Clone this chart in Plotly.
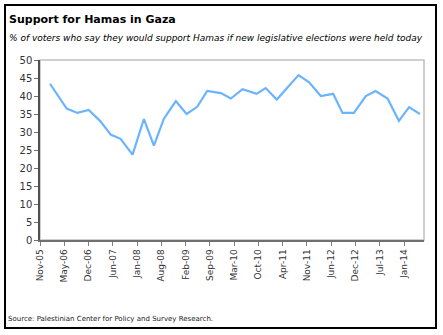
import datetime as dt
import plotly.graph_objects as go

# Poll dates and Hamas support (% of Gaza voters)
poll_dates = [
    "2006-01-31", "2006-06-17", "2006-09-12", "2006-12-14", "2007-03-17",
    "2007-06-15", "2007-09-02", "2007-12-09", "2008-03-11", "2008-06-01",
    "2008-08-22", "2008-11-28", "2009-02-24", "2009-05-22", "2009-08-12",
    "2009-12-02", "2010-02-22", "2010-05-29", "2010-09-21", "2010-12-04",
    "2011-03-06", "2011-08-31", "2011-11-26", "2012-03-01", "2012-06-10",
    "2012-08-26", "2012-11-27", "2013-03-05", "2013-05-24", "2013-08-30",
    "2013-12-01", "2014-02-23", "2014-05-22",
]
support = [
    43.4, 36.5, 35.3, 36.1, 33.1,
    29.2, 28.1, 23.7, 33.6, 26.2,
    33.7, 38.6, 35.0, 37.0, 41.4,
    40.8, 39.3, 41.9, 40.6, 42.2,
    39.0, 45.8, 43.8, 40.0, 40.6,
    35.3, 35.3, 40.0, 41.4, 39.3,
    33.1, 36.9, 35.0,
]
tick_labels = [
    "Nov-05", "May-06", "Dec-06", "Jun-07", "Jan-08", "Aug-08", "Feb-09",
    "Sep-09", "Mar-10", "Oct-10", "Apr-11", "Nov-11", "Jun-12", "Dec-12",
    "Jul-13", "Jan-14",
]

W, H = 443, 335
L, R, T, B = 40, 424, 60, 240  # plot area in pixels

def px2x(px):
    return (px - L) / (R - L)

def py2y(py):
    return (B - py) / (B - T)

# evenly spaced major ticks on the date axis
start = dt.date(2005, 11, 10)
step = dt.timedelta(days=199)
tick_vals = [(start + i * step).isoformat() for i in range(len(tick_labels))]
x_range = [start.isoformat(), (start + dt.timedelta(days=3149)).isoformat()]

font = "DejaVu Sans, Verdana, sans-serif"

fig = go.Figure()
fig.add_trace(go.Scatter(
    x=poll_dates, y=support, mode="lines",
    line=dict(color="#6ab4ff", width=2.2),
    hoverinfo="x+y",
))

fig.update_layout(
    width=W, height=H,
    margin=dict(l=L, r=W - R, t=T, b=H - B),
    paper_bgcolor="white", plot_bgcolor="white",
    showlegend=False,
    font=dict(family=font, size=9, color="#333333"),
    xaxis=dict(
        type="date", range=x_range,
        tickmode="array", tickvals=tick_vals, ticktext=tick_labels,
        tickangle=-90, ticks="outside", ticklen=4, tickcolor="#808080",
        showgrid=False, zeroline=False,
        showline=True, linecolor="#707070", linewidth=1.5,
        tickfont=dict(size=9, color="#333333"),
    ),
    yaxis=dict(
        range=[0, 50], dtick=5, ticks="outside", ticklen=4, tickcolor="#707070",
        showgrid=False, zeroline=False,
        showline=True, linecolor="#505050", linewidth=1.5,
        tickfont=dict(size=10, color="#333333"),
    ),
    shapes=[
        # light frame around the plot area
        dict(type="rect", xref="paper", yref="paper", x0=0, x1=1, y0=0, y1=1,
             line=dict(color="#c0c0c0", width=1.5), layer="below"),
        # outer black frame
        dict(type="rect", xref="paper", yref="paper",
             x0=px2x(5), x1=px2x(436), y0=py2y(328), y1=py2y(5),
             line=dict(color="black", width=2)),
    ],
    annotations=[
        dict(text="<b>Support for Hamas in Gaza</b>", xref="paper", yref="paper",
             x=px2x(7), y=py2y(20), xanchor="left", yanchor="middle",
             showarrow=False, font=dict(family=font, size=11, color="black")),
        dict(text="<i>% of voters who say they would support Hamas if new legislative elections were held today</i>",
             xref="paper", yref="paper", x=px2x(7), y=py2y(38),
             xanchor="left", yanchor="middle", showarrow=False,
             font=dict(family=font, size=9, color="black")),
        dict(text="Source: Palestinian Center for Policy and Survey Research.",
             xref="paper", yref="paper", x=px2x(6), y=py2y(319),
             xanchor="left", yanchor="middle", showarrow=False,
             font=dict(family=font, size=7, color="#222222")),
    ],
)

fig.write_html("out.html")
